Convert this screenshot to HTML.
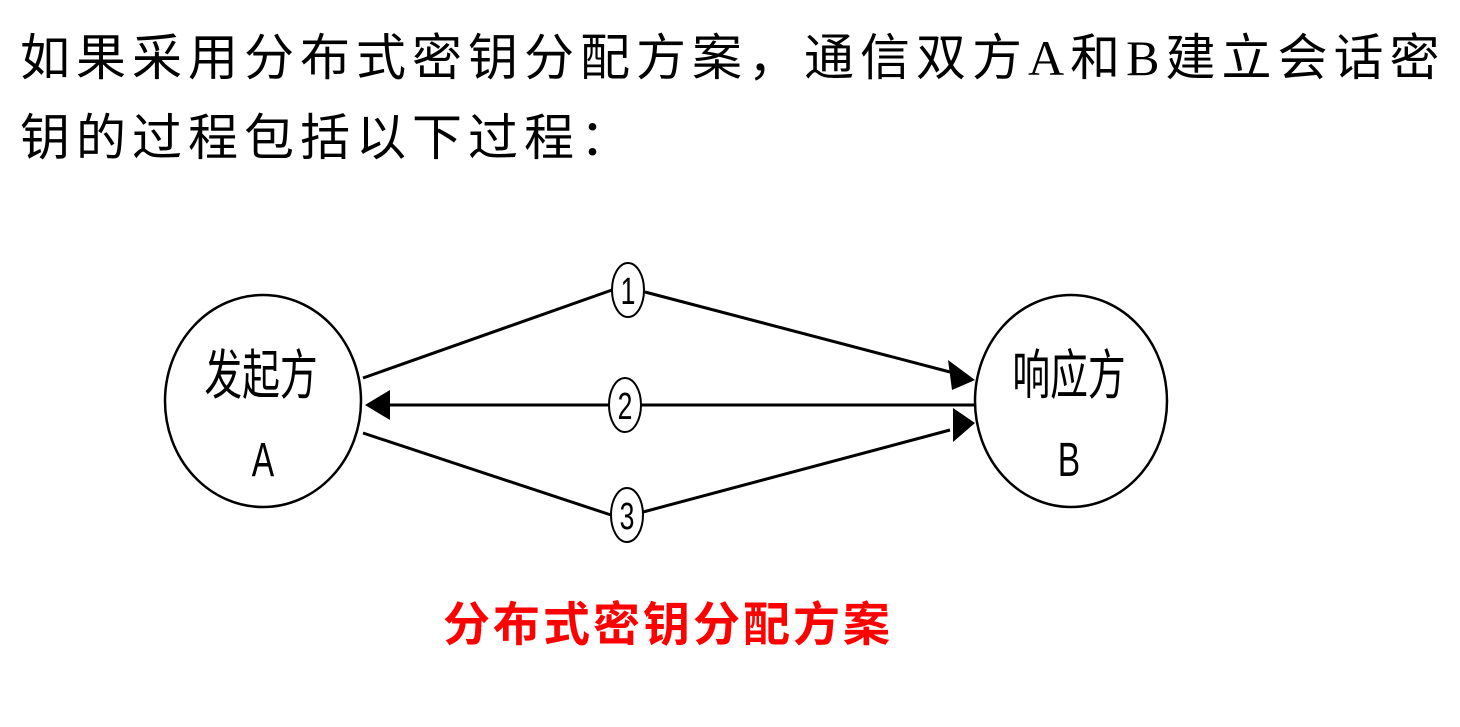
<!DOCTYPE html>
<html><head><meta charset="utf-8"><style>
body{margin:0;width:1460px;height:727px;background:#fff;overflow:hidden;position:relative;font-family:"Liberation Serif","Noto Serif CJK SC",serif;}
.t{position:absolute;left:20px;font-size:50px;letter-spacing:6px;color:#000;white-space:nowrap;font-family:"Liberation Serif","Noto Sans CJK SC",sans-serif;}
.r{position:absolute;left:443px;top:586px;font-size:47px;letter-spacing:3px;font-weight:bold;color:#f00;font-family:"Liberation Sans","Noto Sans CJK SC",sans-serif;white-space:nowrap;}
svg{position:absolute;left:0;top:0;}
</style></head><body>
<div class="t" style="top:18px">如果采用分布式密钥分配方案，通信双方A和B建立会话密</div>
<div class="t" style="top:98px">钥的过程包括以下过程：</div>
<svg width="1460" height="727">
<g fill="none" stroke="#000" stroke-width="3">
<ellipse cx="263" cy="401" rx="98" ry="106" stroke-width="2.5"/>
<ellipse cx="1071" cy="401" rx="96" ry="106" stroke-width="2.5"/>
<ellipse cx="628" cy="290" rx="16" ry="27" stroke-width="2"/>
<ellipse cx="625" cy="405" rx="16" ry="27" stroke-width="2"/>
<ellipse cx="627" cy="515" rx="16" ry="27" stroke-width="2"/>
<line x1="363" y1="378" x2="612" y2="290"/>
<line x1="645" y1="292" x2="950" y2="372"/>
<line x1="641" y1="405" x2="975" y2="405"/>
<line x1="609" y1="405" x2="390" y2="405"/>
<line x1="363" y1="433" x2="611" y2="515"/>
<line x1="643" y1="512" x2="950" y2="430"/>
</g>
<path d="M975,380L948,360L952,390z"/>
<path d="M365,405L390,390L390,420z"/>
<path d="M975,423L953,408L953,442z"/>
<g font-family="Liberation Sans,Noto Sans CJK SC,sans-serif" text-anchor="middle">
<text transform="translate(261,394) scale(0.7,1)" font-size="54">发起方</text>
<text transform="translate(263,476) scale(0.7,1)" font-size="48">A</text>
<text transform="translate(1069,394) scale(0.7,1)" font-size="54">响应方</text>
<text transform="translate(1069,476) scale(0.7,1)" font-size="48">B</text>
<text transform="translate(628,304) scale(0.7,1)" font-size="38">1</text>
<text transform="translate(625,419) scale(0.7,1)" font-size="38">2</text>
<text transform="translate(627,529) scale(0.7,1)" font-size="38">3</text>
</g>
</svg>
<div class="r">分布式密钥分配方案</div>
</body></html>
